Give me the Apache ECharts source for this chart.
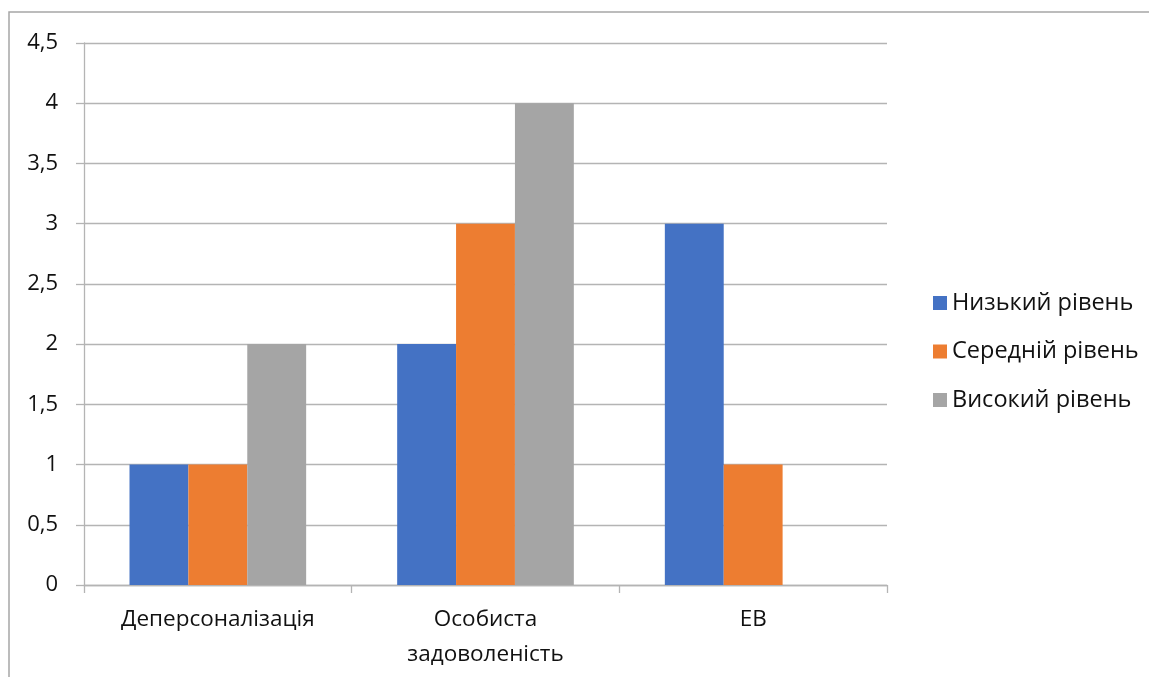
<!DOCTYPE html>
<html>
<head>
<meta charset="utf-8">
<title>Рівні</title>
<script src="https://cdn.jsdelivr.net/npm/echarts@6/dist/echarts.min.js"></script>
<style>
  html, body { margin: 0; padding: 0; background: #ffffff; }
  #chart { width: 1149px; height: 677px; }
</style>
</head>
<body>
<div id="chart"></div>
<script>
// Categories along the x axis
const categories = ['Деперсоналізація', 'Особиста\nзадоволеність', 'ЕВ'];

// Series names and values
const seriesNames = ['Низький рівень', 'Середній рівень', 'Високий рівень'];
const lowLevel = [1, 2, 3];
const midLevel = [1, 3, 1];
const highLevel = [2, 4, 0];

const colors = ['#4472c4', '#ed7d31', '#a5a5a5'];
const fontFamily = '"Open Sans", "Noto Sans", sans-serif';
const lineColor = '#b4b4b4';

const chart = echarts.init(document.getElementById('chart'), null, { renderer: 'canvas' });

const values = [lowLevel, midLevel, highLevel];

chart.setOption({
  animation: false,
  backgroundColor: '#ffffff',
  color: colors,
  graphic: [{
    type: 'rect',
    shape: { x: 9, y: 12, width: 1300, height: 800 },
    style: { fill: 'none', stroke: '#a6a6a6', lineWidth: 1.5 },
    silent: true
  }],
  grid: { left: 84, right: 262, top: 43, bottom: 92, containLabel: false },
  legend: {
    orient: 'vertical',
    left: 928,
    top: 286,
    itemWidth: 14,
    itemHeight: 14,
    itemGap: 24.5,
    icon: 'rect',
    textStyle: { fontFamily: fontFamily, fontSize: 23.5, color: '#111111', padding: [0, 0, 0, 0] },
    data: seriesNames
  },
  xAxis: {
    type: 'category',
    data: categories,
    axisLine: { show: true, lineStyle: { color: lineColor, width: 1.3 } },
    axisTick: { show: true, alignWithLabel: false, length: 8, lineStyle: { color: lineColor, width: 1.3 } },
    axisLabel: {
      fontFamily: fontFamily, fontSize: 22.5, color: '#111111',
      margin: 17, lineHeight: 35, interval: 0
    },
    splitLine: { show: false }
  },
  yAxis: {
    type: 'value',
    min: 0,
    max: 4.5,
    interval: 0.5,
    axisLine: { show: true, lineStyle: { color: lineColor, width: 1.3 } },
    axisTick: { show: true, length: 8, lineStyle: { color: lineColor, width: 1.3 } },
    axisLabel: {
      fontFamily: fontFamily, fontSize: 22, color: '#111111', margin: 26,
      formatter: v => String(v).replace('.', ',')
    },
    splitLine: { show: true, lineStyle: { color: lineColor, width: 1.3 } }
  },
  series: seriesNames.map((name, i) => ({
    name: name,
    type: 'bar',
    data: values[i],
    barWidth: '22%',
    barGap: '0%',
    itemStyle: { color: colors[i] }
  }))
});
</script>
</body>
</html>
